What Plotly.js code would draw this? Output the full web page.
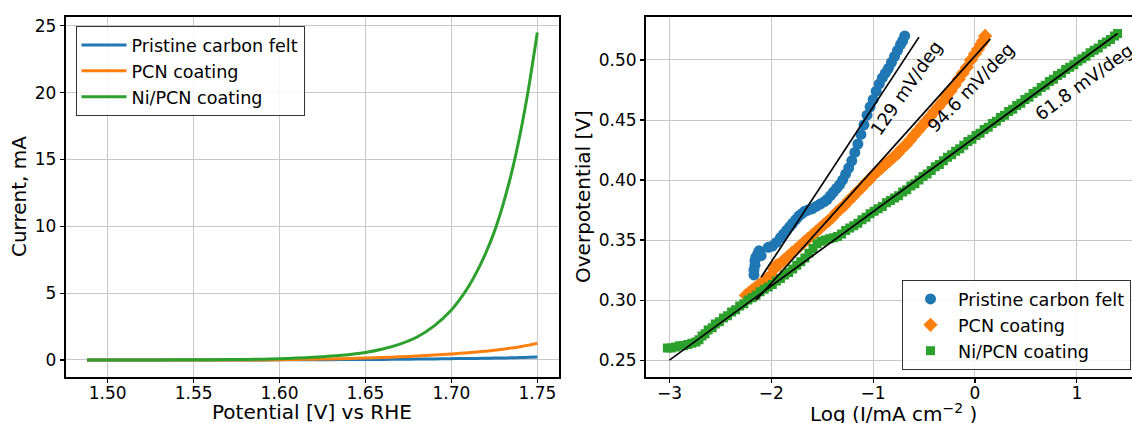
<!DOCTYPE html>
<html>
<head>
<meta charset="utf-8">
<script src="https://cdn.plot.ly/plotly-3.0.1.min.js"></script>
<style>
  html, body { margin: 0; padding: 0; overflow: hidden; background: #fff; }
  #chart { width: 1150px; height: 445px; }
</style>
</head>
<body>
<div id="chart"></div>
<script>
// ---- Linear sweep voltammetry (left panel) ----
const potential = [1.488, 1.50, 1.52, 1.54, 1.56, 1.58, 1.60, 1.61, 1.62, 1.63, 1.64, 1.65, 1.66, 1.67, 1.68, 1.69,
  1.70, 1.705, 1.71, 1.715, 1.72, 1.725, 1.73, 1.735, 1.74, 1.745, 1.75];
const currentPristine = [0, 0, 0, 0, 0, 0, 0.01, 0.015, 0.02, 0.025, 0.03, 0.04, 0.045, 0.055, 0.065, 0.08,
  0.10, 0.105, 0.11, 0.12, 0.13, 0.14, 0.15, 0.165, 0.18, 0.20, 0.22];
const currentPCN = [0, 0, 0, 0, 0, 0, 0.02, 0.04, 0.06, 0.08, 0.11, 0.15, 0.19, 0.24, 0.30, 0.37,
  0.45, 0.50, 0.55, 0.60, 0.66, 0.73, 0.80, 0.89, 0.99, 1.11, 1.25];
const currentNiPCN = [0, 0, 0, 0.01, 0.02, 0.04, 0.09, 0.14, 0.20, 0.29, 0.40, 0.56, 0.82, 1.19, 1.72, 2.55,
  3.74, 4.55, 5.5, 6.65, 8.0, 9.6, 11.6, 14.0, 16.9, 20.4, 24.5];

// ---- Tafel plots (right panel) ----
const logJPristine = [-2.17, -2.17, -2.16, -2.16, -2.15, -2.13, -2.12, -2.10, -2.03, -1.99, -1.95, -1.91, -1.88, -1.85,
  -1.82, -1.79, -1.76, -1.73, -1.70, -1.67, -1.64, -1.60, -1.56, -1.52, -1.48, -1.45, -1.42, -1.39, -1.36, -1.33,
  -1.30, -1.27, -1.24, -1.21, -1.18, -1.15, -1.12, -1.09, -1.06, -1.03, -1.00, -0.97, -0.94, -0.91, -0.88, -0.85,
  -0.82, -0.79, -0.76, -0.73, -0.71, -0.69];
const etaPristine = [0.321, 0.325, 0.329, 0.333, 0.336, 0.339, 0.341, 0.337, 0.344, 0.345, 0.348, 0.352, 0.355, 0.358,
  0.361, 0.364, 0.367, 0.370, 0.372, 0.374, 0.375, 0.376, 0.378, 0.380, 0.382, 0.384, 0.387, 0.390, 0.393, 0.396,
  0.400, 0.405, 0.410, 0.416, 0.423, 0.430, 0.438, 0.446, 0.454, 0.461, 0.467, 0.474, 0.480, 0.485, 0.489, 0.493,
  0.498, 0.503, 0.508, 0.513, 0.516, 0.520];

const logJPCN = [-2.25, -2.22, -2.19, -2.16, -2.13, -2.10, -2.07, -2.04, -2.01, -1.97, -1.95, -1.92, -1.88, -1.84,
  -1.80, -1.76, -1.72, -1.68, -1.64, -1.60, -1.56, -1.52, -1.48, -1.44, -1.40, -1.36, -1.32, -1.28, -1.24, -1.20,
  -1.16, -1.12, -1.08, -1.04, -1.00, -0.96, -0.92, -0.88, -0.84, -0.80, -0.76, -0.72, -0.68, -0.64, -0.60, -0.56,
  -0.52, -0.48, -0.44, -0.40, -0.36, -0.32, -0.28, -0.24, -0.20, -0.16, -0.12, -0.08, -0.04, 0.00, 0.03, 0.06,
  0.08, 0.10];
const etaPCN = [0.304, 0.306, 0.308, 0.310, 0.312, 0.314, 0.316, 0.318, 0.320, 0.326, 0.329, 0.330, 0.333, 0.336,
  0.339, 0.342, 0.345, 0.348, 0.351, 0.354, 0.357, 0.360, 0.363, 0.366, 0.369, 0.373, 0.376, 0.379, 0.383, 0.386,
  0.390, 0.393, 0.397, 0.400, 0.404, 0.407, 0.410, 0.413, 0.416, 0.419, 0.422, 0.426, 0.429, 0.433, 0.437, 0.441,
  0.445, 0.449, 0.453, 0.457, 0.461, 0.465, 0.470, 0.474, 0.479, 0.484, 0.489, 0.494, 0.500, 0.505, 0.509, 0.513,
  0.516, 0.520];

const logJNiPCN = [-3.02, -2.98, -2.94, -2.90, -2.86, -2.82, -2.78, -2.74, -2.71, -2.68, -2.65, -2.62, -2.58, -2.55,
  -2.51, -2.47, -2.43, -2.39, -2.35, -2.31, -2.27, -2.23, -2.19, -2.15, -2.11, -2.07, -2.03, -1.99, -1.95, -1.91,
  -1.87, -1.83, -1.79, -1.75, -1.71, -1.67, -1.63, -1.59, -1.55, -1.51, -1.47, -1.43, -1.39, -1.35, -1.31, -1.27,
  -1.23, -1.19, -1.15, -1.11, -1.07, -1.03, -0.99, -0.95, -0.91, -0.87, -0.83, -0.79, -0.75, -0.71, -0.67, -0.63,
  -0.59, -0.55, -0.51, -0.47, -0.43, -0.39, -0.35, -0.31, -0.27, -0.23, -0.19, -0.15, -0.11, -0.07, -0.03, 0.01,
  0.05, 0.09, 0.13, 0.17, 0.21, 0.25, 0.29, 0.33, 0.37, 0.41, 0.45, 0.49, 0.53, 0.57, 0.61, 0.65, 0.69, 0.73,
  0.77, 0.81, 0.85, 0.89, 0.93, 0.97, 1.01, 1.05, 1.09, 1.13, 1.17, 1.21, 1.25, 1.29, 1.33, 1.37, 1.40];
const etaNiPCN = [0.260, 0.260, 0.261, 0.262, 0.262, 0.263, 0.264, 0.265, 0.267, 0.270, 0.272, 0.275, 0.277, 0.280,
  0.282, 0.285, 0.287, 0.290, 0.292, 0.295, 0.297, 0.300, 0.302, 0.304, 0.307, 0.309, 0.311, 0.313, 0.316, 0.318,
  0.321, 0.323, 0.326, 0.329, 0.332, 0.335, 0.339, 0.343, 0.347, 0.349, 0.350, 0.351, 0.352, 0.353, 0.355, 0.358,
  0.360, 0.362, 0.364, 0.367, 0.369, 0.372, 0.374, 0.376, 0.378, 0.381, 0.383, 0.385, 0.387, 0.390, 0.392, 0.395,
  0.397, 0.400, 0.403, 0.405, 0.408, 0.411, 0.413, 0.416, 0.419, 0.421, 0.424, 0.426, 0.429, 0.432, 0.434, 0.437,
  0.439, 0.442, 0.444, 0.447, 0.449, 0.452, 0.454, 0.457, 0.459, 0.462, 0.464, 0.467, 0.469, 0.472, 0.474, 0.477,
  0.479, 0.482, 0.484, 0.487, 0.489, 0.492, 0.494, 0.496, 0.499, 0.501, 0.503, 0.506, 0.508, 0.510, 0.513, 0.515,
  0.517, 0.520, 0.522];

// Linear Tafel fits (end points) and their slopes
const fitPristineLogJ = [-2.10, -0.55];
const fitPristineEta = [0.319, 0.519];
const fitPCNLogJ = [-2.15, 0.15];
const fitPCNEta = [0.300, 0.5176];
const fitNiPCNLogJ = [-3.00, 1.40];
const fitNiPCNEta = [0.250, 0.522];
const tafelSlopeLabels = ['129 mV/deg', '94.6 mV/deg', '61.8 mV/deg'];

const seriesNames = ['Pristine carbon felt', 'PCN coating', 'Ni/PCN coating'];
const colors = ['#1f77b4', '#ff7f0e', '#2ca02c'];
const xTitles = ['Potential [V] vs RHE', 'Log (I/mA cm<sup>−2</sup> )'];

// The figure is slightly larger than the window; the overflow is hidden.
const W = 1150, H = 445;
const FONT = 'DejaVu Sans, sans-serif';

const traces = [];
// left panel curves
[currentPristine, currentPCN, currentNiPCN].forEach((cur, i) => {
  traces.push({
    x: potential, y: cur, type: 'scatter', mode: 'lines', name: seriesNames[i],
    line: { color: colors[i], width: 3, shape: 'spline', smoothing: 0.6 },
    xaxis: 'x', yaxis: 'y', legend: 'legend'
  });
});
// right panel markers
const symbols = ['circle', 'diamond', 'square'];
const sizes = [11, 11, 9];
[[logJPristine, etaPristine], [logJPCN, etaPCN], [logJNiPCN, etaNiPCN]].forEach((d, i) => {
  traces.push({
    x: d[0], y: d[1], type: 'scatter', mode: 'markers', name: seriesNames[i],
    marker: { color: colors[i], symbol: symbols[i], size: sizes[i], line: { width: 0 } },
    xaxis: 'x2', yaxis: 'y2', legend: 'legend2'
  });
});
// fit lines
[[fitPristineLogJ, fitPristineEta], [fitPCNLogJ, fitPCNEta], [fitNiPCNLogJ, fitNiPCNEta]].forEach(d => {
  traces.push({
    x: d[0], y: d[1], type: 'scatter', mode: 'lines', showlegend: false,
    line: { color: '#000', width: 1.7 }, xaxis: 'x2', yaxis: 'y2'
  });
});

const px = v => v / W;
const py = v => 1 - v / H;

const titleFont = { family: FONT, size: 20, color: '#000' };
const axisCommon = {
  showline: true, linecolor: '#000', linewidth: 2, mirror: true,
  ticks: 'outside', ticklen: 4, tickwidth: 1.2, tickcolor: '#000',
  showgrid: true, gridcolor: '#c8c8c8', gridwidth: 1,
  zeroline: false,
  tickfont: { family: FONT, size: 17, color: '#000' }
};

const legendCommon = {
  bgcolor: 'rgba(255,255,255,0.85)', bordercolor: '#333', borderwidth: 1,
  itemwidth: 45, tracegroupgap: 0,
  font: { family: FONT, size: 17.6, color: '#000' }
};

const leftDomain = [px(65.7), px(559)];
const rightDomain = [px(646), px(1140)];

// x-axis titles are placed as paper annotations just under the tick labels
const xTitleAnnotations = [leftDomain, rightDomain].map((dom, i) => ({
  xref: 'paper', yref: 'paper', x: (dom[0] + dom[1]) / 2, y: py(398),
  xanchor: 'center', yanchor: 'top', showarrow: false,
  text: xTitles[i], font: titleFont
}));

const slopeAnnotations = [
  { x: -0.673, y: 0.477, textangle: -55 },
  { x: -0.043, y: 0.477, textangle: -46 },
  { x: 1.075, y: 0.482, textangle: -36 }
].map((a, i) => Object.assign(a, {
  xref: 'x2', yref: 'y2', text: tafelSlopeLabels[i], showarrow: false,
  xanchor: 'center', yanchor: 'middle',
  font: { family: FONT, size: 18, color: '#000' }
}));

const layout = {
  width: W, height: H,
  margin: { l: 0, r: 0, t: 0, b: 0 },
  paper_bgcolor: '#fff', plot_bgcolor: '#fff',
  font: { family: FONT, color: '#000' },
  xaxis: Object.assign({}, axisCommon, {
    domain: leftDomain, range: [1.4756, 1.7626],
    tickvals: [1.50, 1.55, 1.60, 1.65, 1.70, 1.75], tickformat: '.2f',
    ticklabelstandoff: -4,
    anchor: 'y'
  }),
  yaxis: Object.assign({}, axisCommon, {
    domain: [py(376.7), py(16.5)], range: [-1.25, 25.69],
    tickvals: [0, 5, 10, 15, 20, 25],
    title: { text: 'Current, mA', standoff: 3, font: titleFont },
    anchor: 'x'
  }),
  xaxis2: Object.assign({}, axisCommon, {
    domain: rightDomain, range: [-3.23, 1.62],
    tickvals: [-3, -2, -1, 0, 1],
    ticklabelstandoff: -4,
    anchor: 'y2'
  }),
  yaxis2: Object.assign({}, axisCommon, {
    domain: [py(376.7), py(16.5)], range: [0.2362, 0.5362],
    tickvals: [0.25, 0.30, 0.35, 0.40, 0.45, 0.50], tickformat: '.2f',
    title: { text: 'Overpotential [V]', standoff: 3, font: titleFont },
    anchor: 'x2'
  }),
  legend: Object.assign({}, legendCommon, {
    x: px(75.5), y: py(26), xanchor: 'left', yanchor: 'top'
  }),
  legend2: Object.assign({}, legendCommon, {
    x: px(1131), y: py(370), xanchor: 'right', yanchor: 'bottom'
  }),
  annotations: slopeAnnotations.concat(xTitleAnnotations)
};

Plotly.newPlot('chart', traces, layout, { staticPlot: true, displayModeBar: false });
</script>
</body>
</html>
